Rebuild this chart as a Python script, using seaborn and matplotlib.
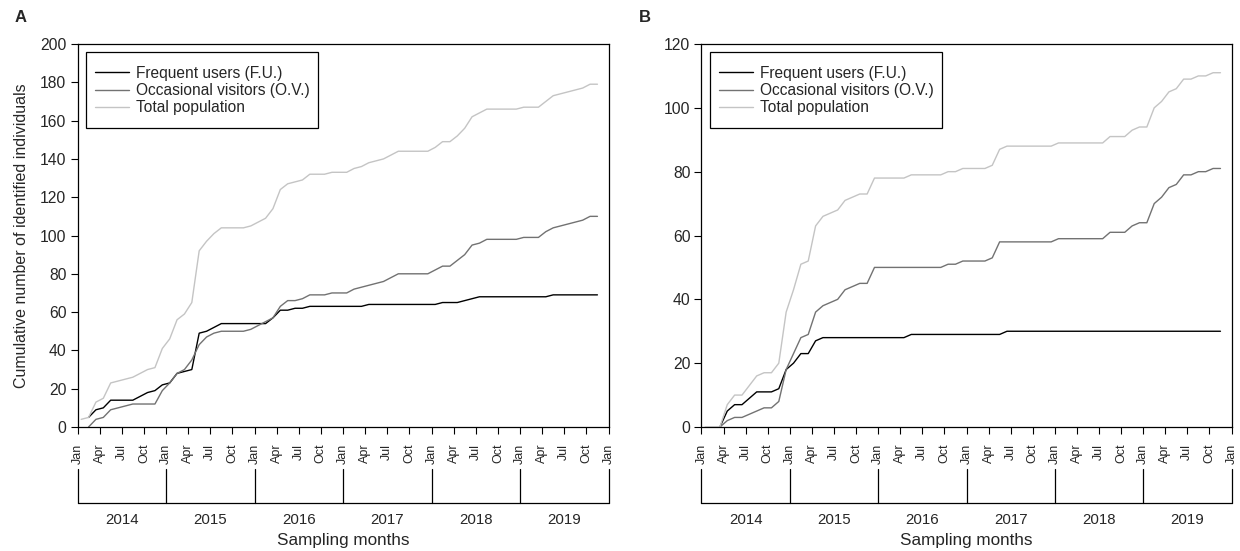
import numpy as np
import pandas as pd
import matplotlib
matplotlib.use("Agg")
import matplotlib.pyplot as plt
from matplotlib.patches import Rectangle
import seaborn as sns

sns.set_theme(style="ticks")
plt.rcParams['font.family'] = ['Liberation Sans', 'DejaVu Sans']

# ---------------- data ----------------
years = [2014, 2015, 2016, 2017, 2018, 2019]
month_tick_labels = ["Jan", "Apr", "Jul", "Oct"]
# sampled months Jan 2014 .. Nov 2019
sample_months = [f"{y}-{m:02d}" for y in years for m in range(1, 13)][:71]

series_names = ["Frequent users (F.U.)", "Occasional visitors (O.V.)", "Total population"]

A_FU = [None, 5, 9, 10, 14, 14, 14, 14, 16, 18, 19, 22, 23, 28, 29, 30, 49, 50, 52, 54,
        54, 54, 54, 54, 54, 54, 57, 61, 61, 62, 62, 63, 63, 63, 63, 63, 63, 63, 63, 64,
        64, 64, 64, 64, 64, 64, 64, 64, 64, 65, 65, 65, 66, 67, 68, 68, 68, 68, 68, 68,
        68, 68, 68, 68, 69, 69, 69, 69, 69, 69, 69]
A_OV = [None, 0, 4, 5, 9, 10, 11, 12, 12, 12, 12, 19, 23, 28, 30, 35, 43, 47, 49, 50,
        50, 50, 50, 51, 53, 55, 57, 63, 66, 66, 67, 69, 69, 69, 70, 70, 70, 72, 73, 74,
        75, 76, 78, 80, 80, 80, 80, 80, 82, 84, 84, 87, 90, 95, 96, 98, 98, 98, 98, 98,
        99, 99, 99, 102, 104, 105, 106, 107, 108, 110, 110]
A_TOT = [4, 5, 13, 15, 23, 24, 25, 26, 28, 30, 31, 41, 46, 56, 59, 65, 92, 97, 101, 104,
         104, 104, 104, 105, 107, 109, 114, 124, 127, 128, 129, 132, 132, 132, 133, 133, 133, 135, 136, 138,
         139, 140, 142, 144, 144, 144, 144, 144, 146, 149, 149, 152, 156, 162, 164, 166, 166, 166, 166, 166,
         167, 167, 167, 170, 173, 174, 175, 176, 177, 179, 179]

B_FU = [None, None, 0, 5, 7, 7, 9, 11, 11, 11, 12, 18, 20, 23, 23, 27, 28, 28, 28, 28,
        28, 28, 28, 28, 28, 28, 28, 28, 29, 29, 29, 29, 29, 29, 29, 29, 29, 29, 29, 29,
        29, 30, 30, 30, 30, 30, 30, 30, 30, 30, 30, 30, 30, 30, 30, 30, 30, 30, 30, 30,
        30, 30, 30, 30, 30, 30, 30, 30, 30, 30, 30]
B_OV = [None, None, 0, 2, 3, 3, 4, 5, 6, 6, 8, 18, 23, 28, 29, 36, 38, 39, 40, 43,
        44, 45, 45, 50, 50, 50, 50, 50, 50, 50, 50, 50, 50, 51, 51, 52, 52, 52, 52, 53,
        58, 58, 58, 58, 58, 58, 58, 58, 59, 59, 59, 59, 59, 59, 59, 61, 61, 61, 63, 64,
        64, 70, 72, 75, 76, 79, 79, 80, 80, 81, 81]
B_TOT = [0, 0, 0, 7, 10, 10, 13, 16, 17, 17, 20, 36, 43, 51, 52, 63, 66, 67, 68, 71,
         72, 73, 73, 78, 78, 78, 78, 78, 79, 79, 79, 79, 79, 80, 80, 81, 81, 81, 81, 82,
         87, 88, 88, 88, 88, 88, 88, 88, 89, 89, 89, 89, 89, 89, 89, 91, 91, 91, 93, 94,
         94, 100, 102, 105, 106, 109, 109, 110, 110, 111, 111]

colors = {"Frequent users (F.U.)": "#000000",
          "Occasional visitors (O.V.)": "#727272",
          "Total population": "#c4c4c4"}


def month_pos(label):
    y, m = label.split("-")
    return (int(y) - years[0]) * 12 + int(m) - 1 + 0.5


def make_df(fu, ov, tot):
    rows = []
    for name, vals in zip(series_names, [fu, ov, tot]):
        for lab, v in zip(sample_months, vals):
            if v is not None:
                rows.append({"x": month_pos(lab), "value": v, "series": name})
    return pd.DataFrame(rows)


W, H = 1240, 551
fig = plt.figure(figsize=(W / 100, H / 100), dpi=100)

panels = [
    ("A", make_df(A_FU, A_OV, A_TOT), 77.5, 608.5, 200, 20),
    ("B", make_df(B_FU, B_OV, B_TOT), 701.5, 1231.5, 120, 20),
]
top_px, bot_px = 44, 427

for letter, df, x0, x1, ymax, ystep in panels:
    axw = x1 - x0
    axh = bot_px - top_px
    ax = fig.add_axes([x0 / W, (H - bot_px) / H, axw / W, axh / H])
    for name in series_names:
        sns.lineplot(data=df[df.series == name], x="x", y="value", color=colors[name],
                     lw=1.0, ax=ax, label=name, estimator=None, sort=True)
    nmonths = len(years) * 12
    ax.set_xlim(0, nmonths)
    ax.set_ylim(0, ymax)
    ax.set_yticks(np.arange(0, ymax + 1, ystep))
    ax.tick_params(axis='y', labelsize=11.3, length=5, width=0.8, color='black', pad=3)
    ticks = np.arange(0, nmonths + 1, 3)
    ax.set_xticks(ticks)
    ax.set_xticklabels([month_tick_labels[(t // 3) % 4] for t in ticks], rotation=90, fontsize=9)
    ax.tick_params(axis='x', length=5, width=0.8, color='black', pad=7)
    for s in ax.spines.values():
        s.set_color('black')
        s.set_linewidth(0.9)
    ax.set_xlabel("")
    ax.set_ylabel("")
    if letter == "A":
        ax.set_ylabel("Cumulative number of identified individuals", fontsize=11.5, labelpad=8)
    # year brackets
    tr = ax.get_xaxis_transform()
    yv0 = (bot_px - 469) / axh
    yv1 = (bot_px - 503) / axh
    for i in range(len(years) + 1):
        ax.plot([i * 12, i * 12], [yv0, yv1], color='black', lw=0.9, transform=tr, clip_on=False)
    ax.plot([0, nmonths], [yv1, yv1], color='black', lw=0.9, transform=tr, clip_on=False)
    for i, yr in enumerate(years):
        ax.text(i * 12 + 6, (bot_px - 520) / axh, str(yr), transform=tr, ha='center', va='center',
                fontsize=10.8)
    ax.text(nmonths / 2, (bot_px - 541) / axh, "Sampling months", transform=tr, ha='center',
            va='center', fontsize=12.3)
    # legend box (frame drawn separately to match proportions)
    bx0, bx1, by0, by1 = 8.5, 240.5, 52, 128
    ax.add_patch(Rectangle((bx0 / axw, (bot_px - by1) / axh), (bx1 - bx0) / axw, (by1 - by0) / axh,
                           transform=ax.transAxes, facecolor='white', edgecolor='black',
                           lw=0.9, zorder=4))
    leg = ax.legend(loc='upper left', bbox_to_anchor=((bx0 - 2.5) / axw, (bot_px - by0 - 2) / axh),
                    borderaxespad=0, frameon=False,
                    fontsize=11.2, handlelength=2.2, labelspacing=0.15, borderpad=0.75,
                    handletextpad=0.45)
    leg.set_zorder(5)
    fig.text((x0 - 63) / W, 1 - 18 / H, letter, fontsize=12, fontweight='bold', ha='left', va='center')

fig.savefig("out.png", dpi=100)
